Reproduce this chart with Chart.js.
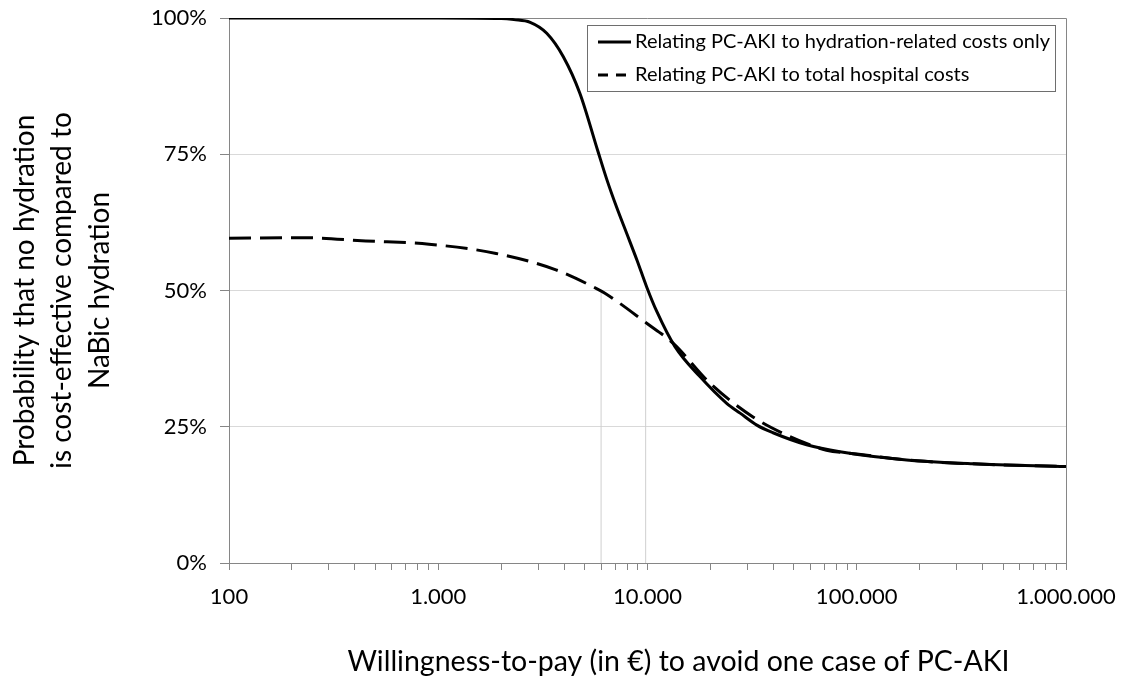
<!DOCTYPE html>
<html><head><meta charset="utf-8">
<script src="https://cdn.jsdelivr.net/npm/chart.js@4.4.1/dist/chart.umd.min.js"></script>
<style>html,body{margin:0;padding:0;background:#fff}#wrap{width:1125px;height:680px;position:relative}</style>
</head><body><div id="wrap"><canvas id="c" width="1125" height="680"></canvas></div>
<script>
const wtpSolid = [100, 1000, 2000, 2300, 2750, 3300, 3960, 4750, 5800, 6400, 7100, 7950, 8900, 9900, 11060, 13530, 17800, 23900, 27700, 33300, 39800, 57600, 83100, 173000, 359000, 1000000];
const probSolid = [100, 100, 99.9, 99.7, 99.2, 97.2, 92.9, 86.2, 75.5, 70.3, 65.4, 60.5, 55.6, 50.7, 46.2, 39.7, 34.2, 29.3, 27.5, 25.3, 23.9, 21.7, 20.4, 18.9, 18.2, 17.7];
const wtpDashed = [100, 223, 451, 903, 1890, 3650, 5680, 6260, 9910, 13280, 19870, 31920, 46000, 59500, 71600, 100000, 173000, 359000, 1000000];
const probDashed = [59.6, 59.7, 59.1, 58.5, 56.8, 53.8, 50.4, 49.5, 44.0, 40.3, 33.0, 26.8, 23.5, 21.7, 20.7, 20.0, 18.9, 18.2, 17.7];
const dropLineX = [6000, 9800];
const dropLineTop = 50;
const xMajorTicks = [100, 1000, 10000, 100000, 1000000];
const xTickLabels = ['100', '1.000', '10.000', '100.000', '1.000.000'];
const xMinorMultipliers = [2, 3, 4, 5, 6, 7, 8, 9];
const yTicks = [0, 25, 50, 75, 100];
const yTickLabels = ['0%', '25%', '50%', '75%', '100%'];
const seriesNames = ['Relating PC-AKI to hydration-related costs only', 'Relating PC-AKI to total hospital costs'];
const xTitle = 'Willingness-to-pay (in €) to avoid one case of PC-AKI';
const yTitle = ['Probability that no hydration', 'is cost-effective compared to', 'NaBic hydration'];

const AXIS = '#868686';
const GRID = '#d9d9d9';
const FONT = 'Lato';
const X_TITLE_SHIFT = 31;
Chart.defaults.font.family = FONT;
Chart.defaults.color = '#000';

const xAllTicks = [];
xMajorTicks.forEach((m, i) => {
  xAllTicks.push(m);
  if (i < xMajorTicks.length - 1) xMinorMultipliers.forEach(k => xAllTicks.push(m * k));
});

const toPts = (xs, ys) => xs.map((x, i) => ({x: x, y: ys[i]}));

const datasets = [
  {label: seriesNames[0], data: toPts(wtpSolid, probSolid), borderColor: '#000', borderWidth: 3,
   pointRadius: 0, fill: false, cubicInterpolationMode: 'monotone'},
  {label: seriesNames[1], data: toPts(wtpDashed, probDashed), borderColor: '#000', borderWidth: 3,
   borderDash: [22, 9], pointRadius: 0, fill: false, cubicInterpolationMode: 'monotone'}
];
dropLineX.forEach(x => datasets.push({label: 'drop', data: [{x: x, y: 0}, {x: x, y: dropLineTop}],
  borderColor: '#cfcfcf', borderWidth: 1, pointRadius: 0, fill: false}));

const frame = {
  id: 'frame',
  beforeDatasetsDraw(chart) {
    const a = chart.chartArea, ctx = chart.ctx;
    ctx.save();
    ctx.strokeStyle = AXIS; ctx.lineWidth = 1;
    ctx.beginPath();
    ctx.moveTo(a.left, a.top + 0.5); ctx.lineTo(a.right + 0.5, a.top + 0.5);
    ctx.lineTo(a.right + 0.5, a.bottom);
    ctx.stroke();
    ctx.restore();
  }
};

const shiftTitle = {
  id: 'shiftTitle',
  beforeDraw(chart) {
    const s = chart.scales.x;
    if (s && !s._titleShifted) {
      const orig = s.drawTitle;
      s.drawTitle = function () {
        const ctx = this.ctx;
        ctx.save(); ctx.translate(X_TITLE_SHIFT, 0);
        orig.call(this);
        ctx.restore();
      };
      s._titleShifted = true;
    }
  }
};

const legendBox = {
  id: 'legendBox',
  afterDraw(chart) {
    const ctx = chart.ctx;
    const bx = 587.5, by = 25.5, bw = 468, bh = 66;
    ctx.save();
    ctx.fillStyle = '#fff';
    ctx.fillRect(bx, by, bw, bh);
    ctx.strokeStyle = '#6e6e6e'; ctx.lineWidth = 1;
    ctx.strokeRect(bx, by, bw, bh);
    const rows = [42, 75];
    ctx.font = '20px ' + FONT;
    ctx.textBaseline = 'middle';
    ctx.textAlign = 'left';
    ctx.fillStyle = '#000';
    rows.forEach((ry, i) => {
      ctx.strokeStyle = '#000'; ctx.lineWidth = 3;
      ctx.setLineDash(i === 1 ? [10, 8] : []);
      ctx.beginPath(); ctx.moveTo(598, ry); ctx.lineTo(631, ry); ctx.stroke();
      ctx.setLineDash([]);
      ctx.fillText(seriesNames[i], 635, ry);
    });
    ctx.restore();
  }
};

new Chart(document.getElementById('c'), {
  type: 'line',
  data: {datasets: datasets},
  plugins: [frame, shiftTitle, legendBox],
  options: {
    responsive: false,
    animation: false,
    devicePixelRatio: 1,
    layout: {padding: {top: 18, right: 59, left: 0, bottom: 0}},
    plugins: {legend: {display: false}, tooltip: {enabled: false}},
    scales: {
      x: {
        type: 'logarithmic', min: 100, max: 1000000,
        afterBuildTicks: s => { s.ticks = xAllTicks.map(v => ({value: v, major: xMajorTicks.includes(v)})); },
        ticks: {autoSkip: false, maxRotation: 0, minRotation: 0, padding: 14, font: {size: 22}, color: '#000',
          callback: v => { const i = xMajorTicks.indexOf(v); return i >= 0 ? xTickLabels[i] : ''; }},
        grid: {drawOnChartArea: false, drawTicks: true, tickLength: 7, tickColor: AXIS, color: AXIS},
        border: {color: AXIS, width: 1},
        title: {display: true, text: xTitle, font: {size: 28.5}, color: '#000', padding: {top: 0, bottom: 1}},
        afterFit: s => { s.height = 117; s.paddingLeft = 0; s.paddingRight = 0; }
      },
      y: {
        min: 0, max: 100,
        afterBuildTicks: s => { s.ticks = yTicks.map(v => ({value: v})); },
        ticks: {padding: 13, font: {size: 22}, color: '#000',
          callback: v => yTickLabels[yTicks.indexOf(v)]},
        grid: {color: c => (c.tick && (c.tick.value === 0 || c.tick.value === 100)) ? 'rgba(0,0,0,0)' : GRID,
          tickColor: AXIS, tickLength: 9, drawTicks: true, lineWidth: 1},
        border: {color: AXIS, width: 1},
        title: {display: true, text: yTitle, font: {size: 28, lineHeight: 1.34}, color: '#000', padding: {top: 6, bottom: 0}},
        afterFit: s => { s.width = 229; s.paddingTop = 0; s.paddingBottom = 0; }
      }
    }
  }
});
</script>
</body></html>
